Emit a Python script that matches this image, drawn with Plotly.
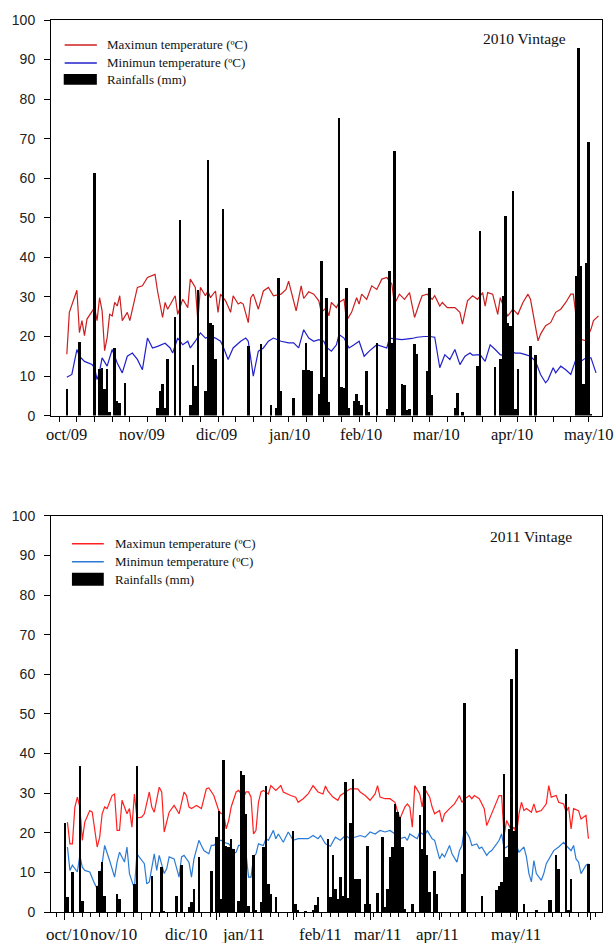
import plotly.graph_objects as go

# ---------------- DATA ----------------
# day index: 2010 vintage -> days from 28 Sep 2009 ; 2011 vintage -> days from 1 Oct 2010
TMAX_2010 = [(3,15.5),(4,26.1),(7,31.7),(8,21.0),(9,24.0),(10,20.2),(11,24.4),(13,26.5),(14,27.3),(15,24.0),
             (16,29.8),(17,26.5),(18,16.4),(19,19.7),(20,25.6),(21,25.2),(22,28.6),(23,27.7),(24,30.3),(25,24.0),
             (27,26.1),(28,24.0),(30,29.8),(31,32.4),(33,32.8),(35,34.9),(38,35.7),(39,31.5),(41,24.8),(42,28.6),
             (43,26.9),(46,30.3),(47,25.6),(49,29.4),(51,27.3),(52,34.5),(54,32.4),(55,24.0),(56,32.4),(58,30.3),
             (59,31.5),(60,29.8),(62,31.5),(63,26.1),(64,30.7),(66,29.0),(68,26.1),(69,30.3),(71,28.2),(72,28.6),
             (73,28.2),(75,23.5),(76,29.8),(77,30.7),(79,26.9),(81,31.5),(83,32.4),(85,30.3),(88,30.7),(90,31.9),
             (91,34.0),(93,28.6),(94,26.5),(96,32.8),(97,29.6),(99,31.3),(101,30.7),(103,29.0),(104,26.1),(106,27.3),
             (107,25.2),(108,28.6),(110,27.3),(111,28.6),(113,29.4),(114,24.0),(116,26.1),(118,29.8),(119,28.2),(120,30.7),
             (122,29.4),(124,32.8),(126,31.9),(128,34.5),(130,34.9),(132,33.2),(133,28.2),(135,30.7),(137,29.4),(139,31.1),
             (141,24.8),(143,28.6),(144,30.3),(146,30.7),(148,29.4),(149,30.3),(151,27.7),(152,28.6),(154,27.3),(157,27.3),
             (159,26.1),(160,23.1),(162,29.0),(164,30.3),(166,29.4),(168,31.1),(169,27.7),(170,31.1),(172,30.7),(174,25.6),
             (175,29.8),(177,26.5),(178,25.2),(180,26.9),(182,25.6),(184,28.6),(186,30.7),(187,29.4),(188,26.1),(190,18.9),
             (191,20.6),(193,22.7),(195,23.5),(197,26.1),(199,26.9),(201,28.6),(203,30.7),(204,30.7),(205,25.6),(206,28.6),
             (207,19.3),(209,18.9),(211,21.8),(212,24.0),(214,25.2)]

TMIN_2010 = [(3,9.7),(5,10.4),(7,16.7),(8,15.0),(10,13.7),(13,12.9),(14,12.1),(15,9.1),(16,11.2),(17,14.6),
             (19,12.5),(21,16.7),(23,13.3),(25,10.8),(27,15.0),(29,15.8),(31,14.2),(33,11.6),(35,19.6),(37,17.1),
             (39,17.5),(42,18.3),(44,17.1),(45,15.8),(47,19.6),(49,17.9),(51,18.8),(52,17.1),(54,18.8),(56,20.9),
             (58,19.6),(60,20.0),(62,19.6),(64,18.8),(65,17.5),(67,14.2),(69,17.1),(72,18.8),(74,19.6),(75,18.8),
             (77,10.0),(79,16.3),(81,17.1),(83,18.8),(85,19.6),(88,18.8),(91,18.4),(93,18.4),(95,17.1),(97,21.7),
             (99,19.6),(101,18.8),(103,19.2),(105,18.8),(106,17.3),(108,16.3),(110,17.9),(111,20.5),(113,19.6),(115,17.1),
             (117,17.9),(119,18.8),(121,15.0),(123,16.3),(126,17.9),(128,17.5),(130,17.1),(131,19.6),(133,19.5),(136,19.2),
             (140,19.5),(142,19.8),(145,20.0),(147,20.0),(149,19.8),(151,12.1),(153,15.4),(155,14.2),(157,16.7),(158,14.6),
             (159,12.9),(161,15.0),(163,15.8),(164,15.3),(167,15.4),(169,13.7),(171,17.9),(173,16.7),(175,15.4),(177,15.0),
             (179,16.3),(181,15.8),(183,15.8),(185,15.4),(187,15.0),(189,13.7),(191,10.4),(193,8.3),(194,9.1),(196,12.1),
             (197,10.8),(199,12.5),(201,11.6),(203,10.4),(205,14.2),(207,13.7),(209,14.6),(211,14.6),(213,10.8)]

RAIN_2010 = [(3,6.7),(8,18.5),(14,61.3),(16,11.8),(17,12.0),(18,6.8),(19,11.8),(20,1.0),(22,17.0),(23,3.8),
             (24,3.2),(26,8.2),(39,1.8),(40,6.2),(41,8.0),(42,2.0),(43,14.3),(46,24.8),(48,49.4),(52,2.8),
             (53,12.9),(54,7.4),(55,31.8),(58,6.3),(59,64.6),(60,23.4),(61,23.0),(62,14.3),(65,52.1),(75,17.6),
             (80,18.0),(84,2.8),(86,2.0),(87,34.9),(88,6.2),(93,4.5),(97,11.5),(98,18.4),(99,11.5),(100,11.2),
             (103,5.5),(104,39.1),(105,9.7),(106,29.8),(107,3.4),(111,75.2),(112,7.2),(113,7.0),(114,32.3),(115,2.0),
             (117,3.6),(118,5.4),(119,3.6),(120,2.6),(122,11.2),(123,1.0),(126,18.4),(130,1.6),(131,36.5),(132,18.4),
             (133,66.8),(136,8.1),(137,7.8),(138,1.4),(139,1.6),(141,18.0),(142,15.5),(146,11.2),(147,32.3),(148,5.2),
             (157,1.8),(158,5.8),(160,0.8),(166,12.6),(167,46.6),(173,12.2),(175,14.4),(176,30.3),(177,50.4),(178,23.5),
             (179,22.6),(180,56.7),(181,1.6),(182,11.8),(187,17.5),(189,15.4),(205,35.4),(206,92.9),(207,37.7),(208,8.0),
             (209,38.6),(210,69.2),(211,0.4)]

TMAX_2011 = [(1,22.7),(2,17.2),(3,17.2),(4,26.5),(5,29.0),(6,26.5),(7,18.1),(8,22.7),(10,25.6),(11,25.2),
             (13,16.4),(14,18.9),(15,24.8),(16,26.5),(17,26.1),(19,29.4),(20,29.8),(21,20.6),(22,20.6),(23,28.2),
             (25,24.8),(26,26.1),(27,21.4),(28,29.8),(29,23.9),(30,23.8),(31,24.0),(32,24.8),(34,30.3),(35,26.5),
             (36,25.2),(38,31.5),(39,30.3),(40,20.2),(42,25.2),(44,26.9),(46,24.8),(48,30.3),(49,29.4),(50,26.5),
             (51,26.1),(53,26.9),(55,26.1),(57,31.1),(58,31.3),(60,29.4),(62,25.6),(63,24.8),(64,24.8),(65,21.0),
             (66,23.1),(67,26.5),(69,30.3),(70,30.7),(72,29.0),(73,30.3),(74,30.3),(75,29.0),(76,19.7),(77,20.6),
             (78,27.7),(79,30.3),(80,30.7),(82,29.8),(83,31.9),(85,30.7),(87,31.9),(88,30.3),(91,29.4),(93,29.0),
             (94,27.7),(96,28.6),(98,29.8),(100,31.9),(102,30.3),(104,29.8),(105,31.8),(106,30.5),(108,29.0),(110,28.2),
             (111,29.4),(113,30.3),(115,31.1),(118,31.1),(119,30.3),(121,29.4),(123,28.2),(125,29.8),(126,31.9),(127,29.0),
             (129,28.6),(131,28.6),(133,27.7),(134,25.6),(135,23.5),(137,26.5),(138,27.3),(139,26.5),(140,21.4),(141,31.9),
             (143,29.8),(144,26.5),(145,31.1),(147,29.0),(148,26.5),(149,24.8),(151,25.6),(152,22.7),(153,24.8),(155,26.1),
             (157,27.3),(159,29.4),(160,27.7),(161,28.5),(163,29.4),(164,28.6),(165,29.4),(167,28.6),(169,26.1),(170,21.8),
             (172,24.8),(174,27.7),(175,29.4),(176,29.4),(177,19.3),(178,23.1),(180,20.6),(181,21.4),(182,19.7),(183,24.8),
             (184,27.7),(185,25.6),(186,26.1),(188,25.2),(189,27.3),(190,25.2),(192,25.6),(194,27.3),(195,31.9),(196,29.0),
             (198,29.4),(199,27.7),(201,27.3),(202,25.2),(203,26.5),(204,21.0),(205,26.1),(207,25.6),(208,23.5),(210,24.4),
             (211,18.5)]

TMIN_2011 = [(1,16.4),(2,10.5),(3,11.8),(5,10.1),(6,14.3),(7,11.3),(8,10.5),(10,10.1),(12,7.1),(13,5.9),
             (14,7.6),(15,12.6),(16,16.8),(18,13.0),(20,8.8),(21,12.6),(22,15.1),(24,12.6),(25,16.4),(26,9.7),
             (28,5.9),(29,14.7),(30,13.9),(32,12.2),(33,7.1),(34,7.6),(36,14.7),(37,10.5),(38,14.3),(40,9.7),
             (41,10.9),(42,13.9),(44,13.4),(46,8.8),(47,13.9),(48,14.3),(50,12.5),(51,8.8),(52,13.4),(54,18.1),
             (55,16.8),(56,15.5),(58,14.7),(59,16.8),(60,16.8),(62,18.1),(63,18.1),(64,17.6),(66,17.2),(67,16.4),
             (68,14.7),(69,15.1),(70,16.8),(72,16.8),(73,14.7),(74,8.8),(75,8.8),(76,13.9),(77,14.7),(78,17.2),
             (80,16.8),(81,18.5),(82,18.1),(84,20.6),(85,18.5),(86,19.7),(88,17.6),(89,18.9),(90,20.2),(92,18.1),
             (94,18.5),(96,18.5),(98,18.5),(100,19.3),(102,18.5),(103,19.3),(105,17.2),(107,16.6),(109,18.9),(111,18.1),
             (113,19.3),(115,18.5),(117,18.9),(119,19.3),(121,18.9),(123,20.2),(125,19.7),(127,20.6),(129,20.2),(131,20.6),
             (133,19.7),(134,17.6),(135,18.5),(137,18.9),(138,18.1),(139,19.7),(141,18.9),(142,18.5),(143,20.2),(145,19.3),
             (146,20.6),(147,19.7),(148,18.5),(149,18.1),(151,13.4),(152,14.7),(153,13.9),(155,16.8),(156,14.7),(158,12.6),
             (159,15.5),(160,16.8),(161,21.0),(163,18.9),(164,16.8),(166,17.2),(167,16.0),(168,16.4),(170,14.3),(171,15.1),
             (172,15.5),(174,17.2),(175,18.1),(176,19.7),(177,16.0),(179,16.8),(180,16.4),(182,16.8),(183,15.1),(185,16.4),
             (186,13.9),(187,9.7),(188,7.6),(189,13.0),(190,9.7),(192,8.0),(193,9.7),(194,12.2),(196,14.3),(197,15.5),
             (199,16.4),(201,17.6),(202,16.8),(204,15.5),(205,16.8),(206,13.4),(207,12.6),(208,9.7),(210,11.8),(211,12.2)]

RAIN_2011 = [(0,22.4),(1,3.8),(3,10.1),(6,37.0),(7,2.9),(13,6.5),(14,10.3),(15,12.6),(16,4.0),(21,4.6),
             (22,3.4),(28,7.1),(29,37.0),(35,9.2),(39,11.3),(40,0.4),(45,4.2),(47,12.0),(50,1.3),(51,2.5),
             (52,5.9),(54,13.9),(59,10.5),(61,18.9),(62,25.6),(63,3.4),(64,38.4),(65,16.8),(66,16.5),(67,18.5),
             (68,16.0),(70,2.9),(71,35.7),(72,34.5),(73,24.8),(74,1.5),(76,14.3),(77,0.5),(79,2.5),(80,16.4),
             (81,31.9),(82,7.1),(83,4.6),(85,3.8),(92,20.6),(93,2.1),(94,0.6),(97,0.4),(100,0.6),(101,1.7),
             (102,3.8),(106,18.5),(107,3.8),(108,14.5),(109,5.9),(110,3.2),(111,8.8),(112,4.0),(113,32.8),(114,3.6),
             (115,22.5),(116,33.6),(117,8.4),(118,8.4),(119,8.4),(121,2.1),(122,16.8),(123,2.1),(126,4.9),(128,18.9),
             (129,1.3),(130,5.9),(131,13.9),(132,16.4),(133,27.3),(134,25.2),(135,24.0),(136,16.4),(137,0.8),(140,2.1),
             (143,24.4),(144,16.0),(145,31.9),(146,14.3),(147,5.0),(149,10.5),(150,4.6),(160,9.7),(161,52.7),(168,4.2),
             (174,5.5),(175,6.5),(176,7.6),(177,34.9),(178,14.0),(179,21.0),(180,58.8),(181,20.6),(182,66.4),(185,2.1),
             (190,0.6),(195,3.1),(196,3.1),(198,14.5),(199,10.9),(202,29.8),(203,0.6),(204,8.4),(211,12.2)]

Y_TICKS = [0, 10, 20, 30, 40, 50, 60, 70, 80, 90, 100]
WEEK_TICKS_2010 = list(range(0, 211, 7))
MONTH_LABELS_2010 = ["oct/09", "nov/09", "dic/09", "jan/10", "feb/10", "mar/10", "apr/10", "may/10"]
MONTH_LABEL_DAYS_2010 = [3.0, 32.7, 62.3, 91.2, 119.7, 149.7, 179.7, 210.2]
MONTH_START_DAYS_2011 = [0, 31, 61, 92, 123, 151, 182, 212]
MONTH_LABELS_2011 = ["oct/10", "nov/10", "dic/10", "jan/11", "feb/11", "mar/11", "apr/11", "may/11"]
MONTH_LABEL_DAYS_2011 = [1.2, 19.7, 49.0, 71.9, 103.2, 126.1, 150.2, 181.9]
LEGEND_TEXT = ["Maximun temperature (ºC)", "Minimun temperature (ºC)", "Rainfalls (mm)"]


def split(pairs):
    return [p[0] for p in pairs], [p[1] for p in pairs]


SERIF = "Liberation Serif, Times New Roman, serif"
SANS = "Liberation Sans, Arial, sans-serif"

fig = go.Figure()

# ---- top (2010) ----
x, y = split(TMAX_2010)
fig.add_trace(go.Scatter(x=x, y=y, mode="lines", line=dict(color="#cc1f1f", width=1.2), xaxis="x", yaxis="y"))
x, y = split(TMIN_2010)
fig.add_trace(go.Scatter(x=x, y=y, mode="lines", line=dict(color="#2020cc", width=1.2), xaxis="x", yaxis="y"))
x, y = split(RAIN_2010)
fig.add_trace(go.Bar(x=x, y=y, width=1.0, marker=dict(color="black", line=dict(width=0)), xaxis="x", yaxis="y3"))

# ---- bottom (2011) ----
x, y = split(TMAX_2011)
fig.add_trace(go.Scatter(x=x, y=y, mode="lines", line=dict(color="#ff2020", width=1.2), xaxis="x2", yaxis="y2"))
x, y = split(TMIN_2011)
fig.add_trace(go.Scatter(x=x, y=y, mode="lines", line=dict(color="#2b7bd6", width=1.2), xaxis="x2", yaxis="y2"))
x, y = split(RAIN_2011)
fig.add_trace(go.Bar(x=x, y=y, width=1.0, marker=dict(color="black", line=dict(width=0)), xaxis="x2", yaxis="y4"))

yax = dict(range=[0, 100], tickmode="array", tickvals=Y_TICKS, ticks="outside", ticklen=6,
           tickcolor="black", showline=True, linecolor="black", linewidth=1, mirror=True,
           showgrid=False, zeroline=False, ticklabelstandoff=6,
           tickfont=dict(family=SANS, size=14, color="#222"))

fig.update_layout(
    width=615, height=943,
    margin=dict(l=49, r=13, t=18, b=31),
    paper_bgcolor="white", plot_bgcolor="white",
    showlegend=False, bargap=0, hovermode=False,
    xaxis=dict(domain=[0, 1], anchor="y", range=[-3.28, 215.38], tickmode="array",
               tickvals=WEEK_TICKS_2010, ticks="outside", ticklen=5, tickcolor="black",
               showticklabels=False, showline=True, linecolor="black", linewidth=1,
               mirror=True, showgrid=False, zeroline=False),
    yaxis=dict(domain=[0.5565, 1], anchor="x", **yax),
    yaxis3=dict(overlaying="y", anchor="x", range=[0, 100], visible=False),
    xaxis2=dict(domain=[0, 1], anchor="y2", range=[-5.62, 216.46], tickmode="array",
                tickvals=MONTH_START_DAYS_2011, ticks="outside", ticklen=7, tickcolor="black",
                minor=dict(ticks="outside", ticklen=4, tickcolor="black", tick0=0, dtick=3.45,
                           showgrid=False),
                showticklabels=False, showline=True, linecolor="black", linewidth=1,
                mirror=True, showgrid=False, zeroline=False),
    yaxis2=dict(domain=[0, 0.4441], anchor="x2", **yax),
    yaxis4=dict(overlaying="y2", anchor="x2", range=[0, 100], visible=False),
)

ann = []
for lab, d in zip(MONTH_LABELS_2010, MONTH_LABEL_DAYS_2010):
    ann.append(dict(x=d, y=0.5358, xref="x", yref="paper", text=lab, showarrow=False,
                    xanchor="center", yanchor="middle", font=dict(family=SERIF, size=16.5, color="#111")))
for lab, d in zip(MONTH_LABELS_2011, MONTH_LABEL_DAYS_2011):
    ann.append(dict(x=d, y=-0.0257, xref="x2", yref="paper", text=lab, showarrow=False,
                    xanchor="center", yanchor="middle", font=dict(family=SERIF, size=17, color="#111")))

ann.append(dict(x=0.86, y=0.9787, xref="paper", yref="paper", text="2010 Vintage", showarrow=False,
                xanchor="center", yanchor="middle", font=dict(family=SERIF, size=15.5, color="#111")))
ann.append(dict(x=0.8707, y=0.4206, xref="paper", yref="paper", text="2011 Vintage", showarrow=False,
                xanchor="center", yanchor="middle", font=dict(family=SERIF, size=15.5, color="#111")))

# manual legends
top_rows = [0.9720, 0.9519, 0.9329]
bot_rows = [0.4128, 0.3926, 0.3725]
for txt, yy in zip(LEGEND_TEXT, top_rows):
    ann.append(dict(x=0.0976, y=yy, xref="paper", yref="paper", text=txt, showarrow=False,
                    xanchor="left", yanchor="middle", font=dict(family=SERIF, size=13, color="#111")))
for txt, yy in zip(LEGEND_TEXT, bot_rows):
    ann.append(dict(x=0.1121, y=yy, xref="paper", yref="paper", text=txt, showarrow=False,
                    xanchor="left", yanchor="middle", font=dict(family=SERIF, size=13, color="#111")))
fig.update_layout(annotations=ann)

shapes = [
    dict(type="line", xref="paper", yref="paper", x0=0.0248, x1=0.0832, y0=0.9720, y1=0.9720,
         line=dict(color="#cc1f1f", width=1.5)),
    dict(type="line", xref="paper", yref="paper", x0=0.0248, x1=0.0832, y0=0.9519, y1=0.9519,
         line=dict(color="#2020cc", width=1.5)),
    dict(type="rect", xref="paper", yref="paper", x0=0.0231, x1=0.0832, y0=0.9273, y1=0.9396,
         fillcolor="black", line=dict(width=0)),
    dict(type="line", xref="paper", yref="paper", x0=0.038, x1=0.0958, y0=0.4128, y1=0.4128,
         line=dict(color="#ff2020", width=1.5)),
    dict(type="line", xref="paper", yref="paper", x0=0.038, x1=0.0958, y0=0.3926, y1=0.3926,
         line=dict(color="#2b7bd6", width=1.5)),
    dict(type="rect", xref="paper", yref="paper", x0=0.038, x1=0.0958, y0=0.3658, y1=0.3803,
         fillcolor="black", line=dict(width=0)),
]
fig.update_layout(shapes=shapes)

# remove the browser's default 8px body margin so the figure sits at the page origin
fig.write_html("out.html", config={"displayModeBar": False},
               post_script="document.body.style.margin='0px';")
